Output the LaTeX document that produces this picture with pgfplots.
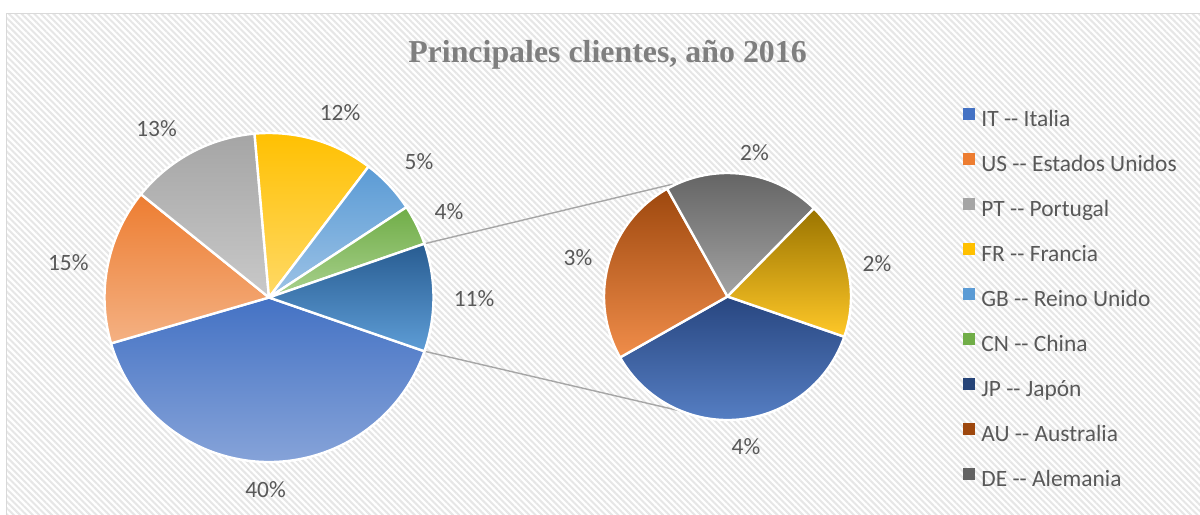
\documentclass[border=0pt]{standalone}
\usepackage{pgfplots}
\pgfplotsset{compat=1.18}
\usepackage{pgfplotstable}
\usetikzlibrary{patterns.meta,calc}
\usepackage{fontspec}
\setmainfont{Carlito}
\newfontfamily\titlefont{Liberation Serif}

\definecolor{txt}{HTML}{595959}
\definecolor{ttl}{HTML}{7F7F7F}
\definecolor{brd}{HTML}{D9D9D9}
\definecolor{stripe}{HTML}{E6E6E6}
\definecolor{conn}{HTML}{A6A6A6}
\definecolor{ITt}{HTML}{4472C4}\definecolor{ITb}{HTML}{8EA9DB}
\definecolor{USt}{HTML}{ED7D31}\definecolor{USb}{HTML}{F4B183}
\definecolor{PTt}{HTML}{A5A5A5}\definecolor{PTb}{HTML}{C9C9C9}
\definecolor{FRt}{HTML}{FFC000}\definecolor{FRb}{HTML}{FFD966}
\definecolor{GBt}{HTML}{5B9BD5}\definecolor{GBb}{HTML}{9DC3E6}
\definecolor{CNt}{HTML}{70AD47}\definecolor{CNb}{HTML}{A9D18E}
\definecolor{OTt}{HTML}{285C91}\definecolor{OTb}{HTML}{5E9DD6}
\definecolor{JPt}{HTML}{284680}\definecolor{JPb}{HTML}{5B85CB}
\definecolor{AUt}{HTML}{9E480E}\definecolor{AUb}{HTML}{F08D4A}
\definecolor{DEt}{HTML}{5F5F5F}\definecolor{DEb}{HTML}{A3A3A3}
\definecolor{XXt}{HTML}{9A7400}\definecolor{XXb}{HTML}{FFC828}
\definecolor{JPl}{HTML}{264478}\definecolor{AUl}{HTML}{9E480E}\definecolor{DEl}{HTML}{636363}

\newcommand\lblfont{\fontsize{23.5}{28}\selectfont}

% primary pie (share of total, %), with label positions (lx, ly)
\pgfplotstableread{
code value lx ly
IT 40.2 265.5 24
US 15.3 68.3 251
PT 12.8 156.5 385
FR 11.75 340 401
GB 5.4 419 351.5
CN 3.95 449 301.5
OT 10.6 474 215
}\primary
% secondary pie (breakdown of OT)
\pgfplotstableread{
code value lx ly
JP 3.87 746 67.5
AU 2.66 578 256
DE 2.17 754.5 361
XX 1.90 877 250
}\secondary

\newcommand\pieangles[3]{%
  \pgfplotstablegetrowsof{#1}%
  \pgfmathtruncatemacro\lastrow{\pgfplotsretval-1}%
  \xdef\piesum{0}%
  \foreach \i in {0,...,\lastrow}{%
    \pgfplotstablegetelem{\i}{value}\of{#1}%
    \pgfmathsetmacro\tmp{\piesum+\pgfplotsretval}%
    \xdef\piesum{\tmp}}%
  \xdef\pieang{#3}%
  \foreach \i in {0,...,\lastrow}{%
    \pgfplotstablegetelem{\i}{code}\of{#1}%
    \expandafter\xdef\csname #2c\i\endcsname{\pgfplotsretval}%
    \pgfplotstablegetelem{\i}{lx}\of{#1}%
    \expandafter\xdef\csname #2x\i\endcsname{\pgfplotsretval}%
    \pgfplotstablegetelem{\i}{ly}\of{#1}%
    \expandafter\xdef\csname #2y\i\endcsname{\pgfplotsretval}%
    \pgfplotstablegetelem{\i}{value}\of{#1}%
    \let\pieval\pgfplotsretval
    \pgfmathtruncatemacro\tmpp{round(\pieval)}%
    \expandafter\xdef\csname #2p\i\endcsname{\tmpp}%
    \pgfmathsetmacro\tmp{\pieang-360*\pieval/\piesum}%
    \expandafter\xdef\csname #2s\i\endcsname{\pieang}%
    \expandafter\xdef\csname #2e\i\endcsname{\tmp}%
    \xdef\pieang{\tmp}}%
}

\newcommand\drawpie[5]{%
  \pgfplotstablegetrowsof{#1}%
  \pgfmathtruncatemacro\lastrow{\pgfplotsretval-1}%
  \foreach \i in {0,...,\lastrow}{%
    \edef\doslice{\noexpand\path[draw=white, line width=2.4bp, line join=round,
      top color=\csname #2c\i\endcsname t, bottom color=\csname #2c\i\endcsname b]
      (axis cs:#3,#4) -- ++(\csname #2s\i\endcsname:#5bp)
      arc[start angle=\csname #2s\i\endcsname, end angle=\csname #2e\i\endcsname, radius=#5bp] -- cycle;}%
    \doslice
    \edef\dolabel{\noexpand\node[anchor=center, inner sep=0pt, text height=15bp, text depth=0pt,
      text=txt, font=\noexpand\lblfont] at (axis cs:\csname #2x\i\endcsname,\csname #2y\i\endcsname)
      {\csname #2p\i\endcsname\noexpand\%};}%
    \dolabel
  }%
}

\pieangles{\primary}{P}{-19.08}
\pieangles{\secondary}{S}{-19}

\begin{document}
\begin{tikzpicture}
\begin{axis}[
  width=1200bp, height=514bp, scale only axis,
  xmin=0, xmax=1200, ymin=0, ymax=514,
  hide axis, clip=false,
  legend cell align=left,
  legend style={at={(axis cs:963,405.5)}, anchor=north west, draw=none, fill=none,
    inner sep=0pt, outer sep=0pt, column sep=7.5bp, row sep=21.8bp,
    font=\lblfont, text=txt,
    nodes={inner sep=0pt, text height=16bp, text depth=5bp}},
]
\fill[white] (axis cs:0,0) rectangle (axis cs:1200,514);
\fill[pattern={Lines[angle=-45,distance=4.5bp,line width=2bp]}, pattern color=stripe]
  (axis cs:6.5,0) rectangle (axis cs:1200,500.5);
\draw[brd, line width=1.5bp] (axis cs:6.5,-5) -- (axis cs:6.5,500.5) -- (axis cs:1205,500.5);

\node[anchor=base, text=ttl, font=\titlefont\bfseries\fontsize{32}{36}\selectfont]
  at (axis cs:607.5,451.3) {Principales clientes, año 2016};

\draw[conn, line width=1.4bp] (axis cs:269,216.5) ++(19.08:164.5bp) -- ($(axis cs:727.5,217.5)+(116:125bp)$);
\draw[conn, line width=1.4bp] (axis cs:269,216.5) ++(-19.08:164.5bp) -- ($(axis cs:727.5,217.5)+(247:124bp)$);

\drawpie{\primary}{P}{269}{216.5}{164.5}
\drawpie{\secondary}{S}{727.5}{217.5}{123.5}

\addlegendimage{legend image code/.code={\fill[ITt] (0bp,2bp) rectangle (10.5bp,12.5bp);}}
\addlegendentry{IT -{}- Italia}
\addlegendimage{legend image code/.code={\fill[USt] (0bp,2bp) rectangle (10.5bp,12.5bp);}}
\addlegendentry{US -{}- Estados Unidos}
\addlegendimage{legend image code/.code={\fill[PTt] (0bp,2bp) rectangle (10.5bp,12.5bp);}}
\addlegendentry{PT -{}- Portugal}
\addlegendimage{legend image code/.code={\fill[FRt] (0bp,2bp) rectangle (10.5bp,12.5bp);}}
\addlegendentry{FR -{}- Francia}
\addlegendimage{legend image code/.code={\fill[GBt] (0bp,2bp) rectangle (10.5bp,12.5bp);}}
\addlegendentry{GB -{}- Reino Unido}
\addlegendimage{legend image code/.code={\fill[CNt] (0bp,2bp) rectangle (10.5bp,12.5bp);}}
\addlegendentry{CN -{}- China}
\addlegendimage{legend image code/.code={\fill[JPl] (0bp,2bp) rectangle (10.5bp,12.5bp);}}
\addlegendentry{JP -{}- Japón}
\addlegendimage{legend image code/.code={\fill[AUl] (0bp,2bp) rectangle (10.5bp,12.5bp);}}
\addlegendentry{AU -{}- Australia}
\addlegendimage{legend image code/.code={\fill[DEl] (0bp,2bp) rectangle (10.5bp,12.5bp);}}
\addlegendentry{DE -{}- Alemania}
\end{axis}
\pgfresetboundingbox
\useasboundingbox (current axis.south west) rectangle (current axis.north east);
\end{tikzpicture}
\end{document}
